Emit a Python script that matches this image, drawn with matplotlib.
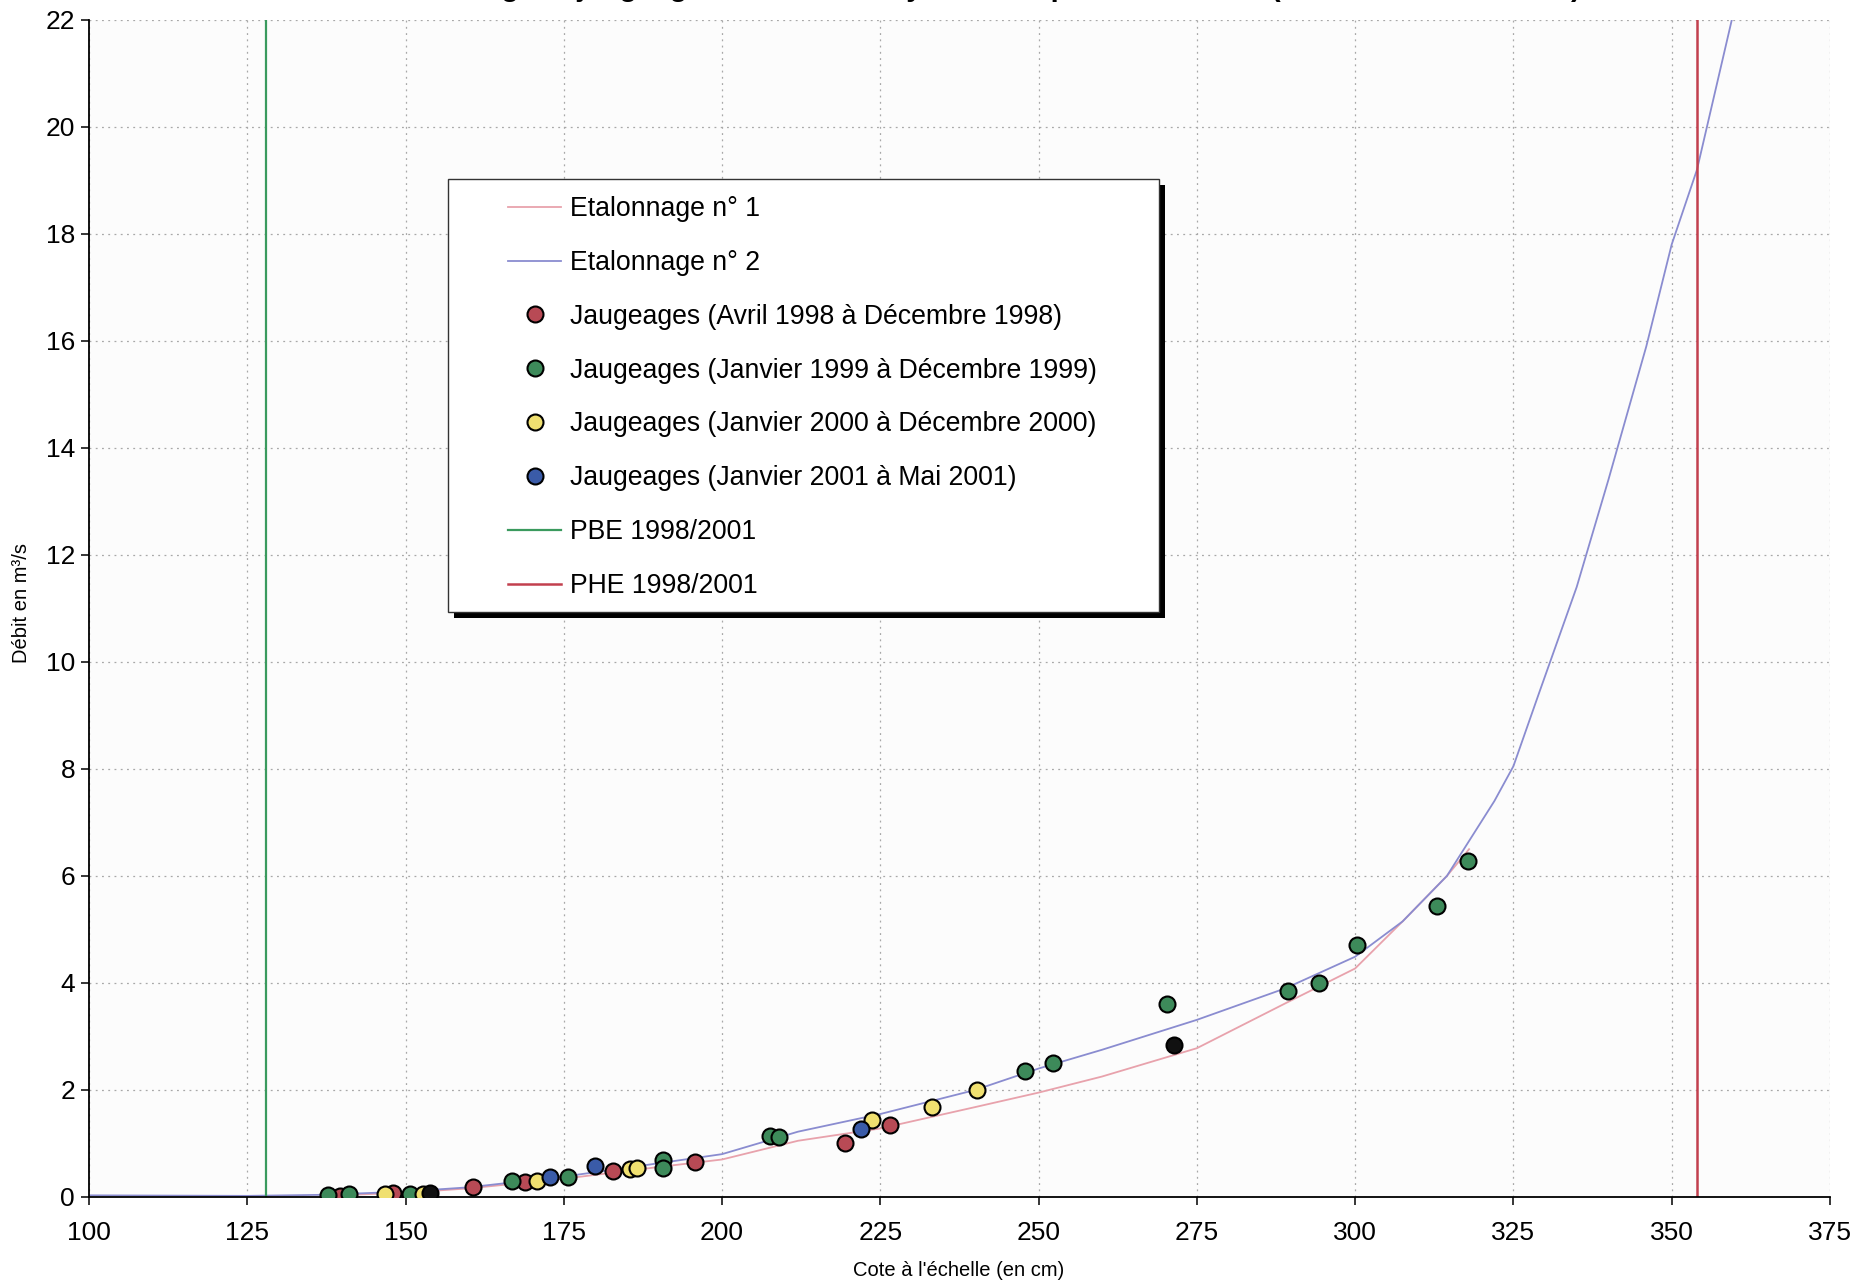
import matplotlib.pyplot as plt
from matplotlib.patches import Rectangle

plt.rcParams['font.family'] = ['Liberation Sans', 'DejaVu Sans']

# ── courbes d'étalonnage ──
etal1_x = [137, 150, 160, 175, 190, 200, 212, 225, 240, 250, 260, 275, 289, 300, 307.5, 314.5, 318]
etal1_y = [0.02, 0.08, 0.16, 0.34, 0.56, 0.70, 1.05, 1.28, 1.68, 1.95, 2.25, 2.78, 3.62, 4.27, 5.15, 6.0, 6.5]

etal2_x = [100, 125, 137, 150, 160, 175, 190, 200, 212, 225, 240, 250, 260, 275, 289, 300,
           307.5, 314.5, 322, 325, 329, 335, 340, 346, 350, 354, 359.5]
etal2_y = [0.03, 0.02, 0.04, 0.10, 0.18, 0.38, 0.63, 0.80, 1.22, 1.55, 2.0, 2.4, 2.75, 3.31, 3.9, 4.49,
           5.15, 6.0, 7.4, 8.05, 9.4, 11.4, 13.4, 15.9, 17.8, 19.2, 22.0]

# ── jaugeages ──
j1998_x = [139.7, 148.1, 160.7, 168.9, 182.8, 195.7, 219.5, 226.5]
j1998_y = [0.02, 0.07, 0.19, 0.27, 0.49, 0.66, 1.01, 1.34]

j1999_x = [137.8, 141.0, 150.7, 166.8, 175.7, 190.7, 190.7, 207.6, 209.0, 247.8, 252.3,
           270.3, 289.4, 294.3, 300.3, 312.9, 317.9]
j1999_y = [0.04, 0.06, 0.06, 0.29, 0.37, 0.69, 0.55, 1.13, 1.12, 2.35, 2.50,
           3.60, 3.85, 3.99, 4.70, 5.43, 6.27]

j2000_x = [146.8, 152.8, 170.8, 185.5, 186.6, 223.7, 233.1, 240.3]
j2000_y = [0.06, 0.06, 0.29, 0.52, 0.55, 1.43, 1.68, 1.99]

j2001_x = [172.9, 179.9, 222.0]
j2001_y = [0.38, 0.58, 1.27]

autres_x = [153.9, 271.4]
autres_y = [0.07, 2.84]

pbe = 128.0
phe = 354.0

fig = plt.figure(figsize=(18.73, 12.84), dpi=100)
ax = fig.add_axes([0.0475, 0.0678, 0.9295, 0.9167])
ax.set_facecolor('#fcfcfc')

ax.plot(etal1_x, etal1_y, color='#e8a2ac', lw=1.3, label='Etalonnage n° 1', zorder=2)
ax.plot(etal2_x, etal2_y, color='#8a8cd0', lw=1.3, label='Etalonnage n° 2', zorder=2)

mk = dict(ls='none', marker='o', ms=11.5, mec='black', mew=1.5, zorder=3)
ax.plot(j1998_x, j1998_y, mfc='#b84a55', label='Jaugeages (Avril 1998 à Décembre 1998)', **mk)
ax.plot(j1999_x, j1999_y, mfc='#3d8a5a', label='Jaugeages (Janvier 1999 à Décembre 1999)', **mk)
ax.plot(j2000_x, j2000_y, mfc='#f0e070', label='Jaugeages (Janvier 2000 à Décembre 2000)', **mk)
ax.plot(j2001_x, j2001_y, mfc='#3a5ba8', label='Jaugeages (Janvier 2001 à Mai 2001)', **mk)
ax.plot(autres_x, autres_y, mfc='#111111', **mk)

ax.axvline(pbe, color='#3a9a5e', lw=1.6, label='PBE 1998/2001', zorder=2.5)
ax.axvline(phe, color='#c2404e', lw=1.8, label='PHE 1998/2001', zorder=2.5)

ax.set_xlim(100, 375)
ax.set_ylim(0, 22)
ax.set_xticks(range(100, 376, 25))
ax.set_yticks(range(0, 23, 2))
ax.grid(True, color='#a8a8a8', lw=0.9, ls=(0, (1.5, 3.5)))
ax.set_axisbelow(True)
for s in ['top', 'right']:
    ax.spines[s].set_visible(False)
for s in ['left', 'bottom']:
    ax.spines[s].set_linewidth(1.3)
ax.tick_params(axis='both', labelsize=19, length=6, width=1.1, direction='out')
ax.tick_params(axis='x', pad=11)
ax.tick_params(axis='y', pad=4)

# cadre de légende avec ombre
ax.add_patch(Rectangle((454 / 1873, 1 - 618 / 1284), 711 / 1873, 433 / 1284,
                       transform=fig.transFigure, facecolor='black', edgecolor='none', zorder=4))
ax.add_patch(Rectangle((448 / 1873, 1 - 612 / 1284), 711 / 1873, 433 / 1284,
                       transform=fig.transFigure, facecolor='white', edgecolor='#333333',
                       lw=1.0, zorder=4.1))
ax.legend(loc='upper left', bbox_to_anchor=(508 / 1873, 1 - 196 / 1284),
          bbox_transform=fig.transFigure, frameon=False, fontsize=19.2,
          handlelength=2.0, handletextpad=0.34, labelspacing=1.045,
          borderpad=0, borderaxespad=0, numpoints=1)

fig.text(959 / 1873, 1 - 1270 / 1284, "Cote à l'échelle (en cm)", fontsize=14.5,
         ha='center', va='center')
fig.text(21.5 / 1873, 0.530, 'Débit en m³/s', fontsize=14.5, rotation=90,
         ha='center', va='center')
# titre coupé en haut de la page (seuls les jambages restent visibles)
fig.text(1581 / 1873, 1 + 4 / 1284,
         "Etalonnage et jaugeages à la station hydrométrique de la rivière (Avril 1998 à Mai 2001)",
         fontsize=21, fontweight='bold', ha='right', va='baseline')

fig.savefig('out.png', dpi=100, facecolor='white')
